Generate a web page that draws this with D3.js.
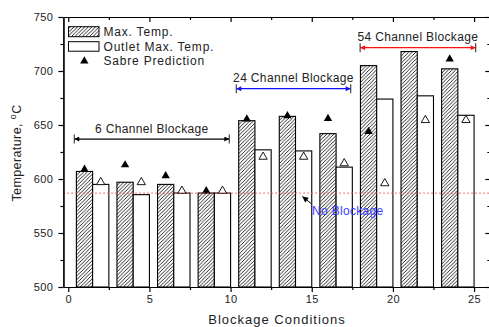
<!DOCTYPE html>
<html>
<head>
<meta charset="utf-8">
<script src="https://cdn.jsdelivr.net/npm/d3@7"></script>
<style>
  body { margin: 0; background: #fff; }
  svg { display: block; font-family: "Liberation Sans", Arial, sans-serif; }
  .axis path, .axis line { stroke: #000; stroke-width: 1.2; }
  .axis text { font-size: 11px; fill: #222; letter-spacing: 0.4px; }
</style>
</head>
<body>
<svg width="489" height="327"></svg>
<script>
// blockage condition positions (hatched = max temp, plain = outlet)
var maxX = [1, 3.5, 6, 8.5, 11, 13.5, 16, 18.5, 21, 23.5];
var outletX = [2, 4.5, 7, 9.5, 12, 14.5, 17, 19.5, 22, 24.5];

var maxTemp = [607, 597, 595, 587, 654, 658, 642, 705, 718, 702];
var outletTemp = [595, 585.5, 587, 587, 627, 626, 611, 674, 677, 659];
var sabreMax = [609, 613, 603, 589, 655.5, 658.5, 656, 644, null, 711];
var sabreOutlet = [597, 597, 589, 589, 620.5, 620.5, 614.5, 596, 654.5, 654.5];

var noBlockage = 587;

var xMajor = [0, 5, 10, 15, 20, 25];
var xMinor = [2.5, 7.5, 12.5, 17.5, 22.5];
var yMajor = [500, 550, 600, 650, 700, 750];
var yMinor = [525, 575, 625, 675, 725];

var groups = [
    {label: "6 Channel Blockage", x0: 0.37, x1: 9.92, y: 637, color: "#000"},
    {label: "24 Channel Blockage", x0: 10.35, x1: 17.4, y: 683.6, color: "#1010ff"},
    {label: "54 Channel Blockage", x0: 17.98, x1: 25.1, y: 721.6, color: "#ff1010"}
];

var x = d3.scaleLinear().domain([-0.3, 26]).range([63.4, 490.3]),
    y = d3.scaleLinear().domain([500, 750]).range([287, 17]);

var bw = x(1) - x(0);

var svg = d3.select("svg");
var defs = svg.append("defs");

var pat = defs.append("pattern")
    .attr("id", "hatch")
    .attr("patternUnits", "userSpaceOnUse")
    .attr("width", 3.6)
    .attr("height", 3.6);
pat.append("rect").attr("width", 3.6).attr("height", 3.6).attr("fill", "#fff");
pat.append("path")
    .attr("d", "M-0.9,0.9 L0.9,-0.9 M0,3.6 L3.6,0 M2.7,4.5 L4.5,2.7")
    .attr("stroke", "#111")
    .attr("stroke-width", 0.9);

groups.forEach(function(g, i) {
    ["s", "e"].forEach(function(k) {
        defs.append("marker")
            .attr("id", "arr" + k + i)
            .attr("viewBox", "0 0 10 10")
            .attr("refX", 10).attr("refY", 5)
            .attr("markerWidth", 7).attr("markerHeight", 5)
            .attr("markerUnits", "userSpaceOnUse")
            .attr("orient", k == "s" ? "auto-start-reverse" : "auto")
            .append("path")
            .attr("d", "M0,0 L10,5 L0,10 z")
            .attr("fill", g.color);
    });
});
defs.append("marker")
    .attr("id", "arrNB")
    .attr("viewBox", "0 0 10 10")
    .attr("refX", 10).attr("refY", 5)
    .attr("markerWidth", 7).attr("markerHeight", 6)
    .attr("markerUnits", "userSpaceOnUse")
    .attr("orient", "auto")
    .append("path")
    .attr("d", "M0,0 L10,5 L0,10 z")
    .attr("fill", "#000");

// bars
svg.append("g").selectAll("rect")
    .data(maxTemp)
    .enter().append("rect")
    .attr("x", function(d, i) { return x(maxX[i] - 0.5); })
    .attr("y", function(d) { return y(d); })
    .attr("width", bw)
    .attr("height", function(d) { return y(500) - y(d); })
    .attr("fill", "url(#hatch)")
    .attr("stroke", "#000")
    .attr("stroke-width", 1.1);

svg.append("g").selectAll("rect")
    .data(outletTemp)
    .enter().append("rect")
    .attr("x", function(d, i) { return x(outletX[i] - 0.5); })
    .attr("y", function(d) { return y(d); })
    .attr("width", bw)
    .attr("height", function(d) { return y(500) - y(d); })
    .attr("fill", "#fff")
    .attr("stroke", "#000")
    .attr("stroke-width", 1.1);

var tri = d3.symbol().type(d3.symbolTriangle).size(30);

svg.append("g").selectAll("path")
    .data(sabreMax.map(function(v, i) { return {x: maxX[i], v: v}; })
        .filter(function(d) { return d.v != null; }))
    .enter().append("path")
    .attr("d", tri)
    .attr("transform", function(d) { return "translate(" + x(d.x) + "," + y(d.v) + ")"; })
    .attr("fill", "#000");

svg.append("g").selectAll("path")
    .data(sabreOutlet)
    .enter().append("path")
    .attr("d", tri)
    .attr("transform", function(d, i) { return "translate(" + x(outletX[i]) + "," + y(d) + ")"; })
    .attr("fill", "#fff")
    .attr("stroke", "#000")
    .attr("stroke-width", 0.9);

// no blockage reference line
svg.append("line")
    .attr("x1", x(-0.3)).attr("x2", x(26))
    .attr("y1", y(noBlockage)).attr("y2", y(noBlockage))
    .attr("stroke", "#f05050")
    .attr("stroke-width", 1.3)
    .attr("stroke-dasharray", "1.3,2.7");

svg.append("line")
    .attr("x1", x(14.95)).attr("y1", y(577.5))
    .attr("x2", x(14.42)).attr("y2", y(583.8))
    .attr("stroke", "#000")
    .attr("stroke-width", 1)
    .attr("marker-end", "url(#arrNB)");

svg.append("text")
    .attr("x", x(15.02)).attr("y", y(566.5))
    .attr("fill", "#3a3aff")
    .style("font-size", "12px")
    .style("letter-spacing", "0.3px")
    .text("No Blockage");

// blockage group annotations
groups.forEach(function(g, i) {
    var a = svg.append("g");
    a.append("line")
        .attr("x1", x(g.x0)).attr("x2", x(g.x1))
        .attr("y1", y(g.y)).attr("y2", y(g.y))
        .attr("stroke", g.color)
        .attr("stroke-width", 1.2)
        .attr("marker-start", "url(#arrs" + i + ")")
        .attr("marker-end", "url(#arre" + i + ")");
    [g.x0, g.x1].forEach(function(v) {
        a.append("line")
            .attr("x1", x(v)).attr("x2", x(v))
            .attr("y1", y(g.y) - 4.5).attr("y2", y(g.y) + 4.5)
            .attr("stroke", "#333")
            .attr("stroke-width", 1.1);
    });
    a.append("text")
        .attr("x", (x(g.x0) + x(g.x1)) / 2)
        .attr("y", y(g.y) - 6.5)
        .attr("text-anchor", "middle")
        .attr("fill", "#222")
        .style("font-size", "12px")
        .style("letter-spacing", "0.35px")
        .text(g.label);
});

// axes
svg.append("g")
    .attr("class", "axis")
    .attr("transform", "translate(0,287)")
    .call(d3.axisBottom(x).tickValues(xMajor).tickSize(5).tickSizeOuter(0).tickPadding(3));
svg.append("g")
    .attr("class", "axis")
    .attr("transform", "translate(0,287)")
    .call(d3.axisBottom(x).tickValues(xMinor).tickSize(3).tickSizeOuter(0).tickFormat(""));
svg.append("g")
    .attr("class", "axis")
    .attr("transform", "translate(0,17)")
    .call(d3.axisBottom(x).tickValues(xMajor).tickSize(5).tickSizeOuter(0).tickFormat(""));
svg.append("g")
    .attr("class", "axis")
    .attr("transform", "translate(0,17)")
    .call(d3.axisBottom(x).tickValues(xMinor).tickSize(3).tickSizeOuter(0).tickFormat(""));

svg.append("g")
    .attr("class", "axis")
    .attr("transform", "translate(63.4,0)")
    .call(d3.axisLeft(y).tickValues(yMajor).tickSize(5).tickSizeOuter(0).tickPadding(5));
svg.append("g")
    .attr("class", "axis")
    .attr("transform", "translate(63.4,0)")
    .call(d3.axisLeft(y).tickValues(yMinor).tickSize(3).tickSizeOuter(0).tickFormat(""));
svg.append("g")
    .attr("class", "axis")
    .attr("transform", "translate(490.3,0)")
    .call(d3.axisLeft(y).tickValues(yMajor).tickSize(5).tickSizeOuter(0).tickFormat(""));
svg.append("g")
    .attr("class", "axis")
    .attr("transform", "translate(490.3,0)")
    .call(d3.axisLeft(y).tickValues(yMinor).tickSize(3).tickSizeOuter(0).tickFormat(""));

// axis titles
svg.append("text")
    .attr("x", 277).attr("y", 324)
    .attr("text-anchor", "middle")
    .attr("fill", "#222")
    .style("font-size", "13px")
    .style("letter-spacing", "1px")
    .text("Blockage Conditions");

var yl = svg.append("text")
    .attr("transform", "translate(21,153)rotate(-90)")
    .attr("text-anchor", "middle")
    .attr("fill", "#222")
    .style("font-size", "12.5px")
    .style("letter-spacing", "0.4px");
yl.append("tspan").text("Temperature, ");
yl.append("tspan").attr("dy", -5).style("font-size", "9px").text("o");
yl.append("tspan").attr("dy", 5).text("C");

// legend
var legend = svg.append("g").style("font-size", "12px").style("letter-spacing", "0.8px");
legend.append("rect")
    .attr("x", 68.5).attr("y", 26.7).attr("width", 30.5).attr("height", 10)
    .attr("fill", "url(#hatch)").attr("stroke", "#000").attr("stroke-width", 1);
legend.append("rect")
    .attr("x", 68.5).attr("y", 41.7).attr("width", 30.5).attr("height", 9.5)
    .attr("fill", "#fff").attr("stroke", "#000").attr("stroke-width", 1);
legend.append("path")
    .attr("d", tri)
    .attr("transform", "translate(84.3,61)")
    .attr("fill", "#000");
legend.selectAll("text")
    .data(["Max. Temp.", "Outlet Max. Temp.", "Sabre Prediction"])
    .enter().append("text")
    .attr("x", 103.5)
    .attr("y", function(d, i) { return 36.3 + i * 14.2; })
    .attr("fill", "#222")
    .text(function(d) { return d; });
</script>
</body>
</html>
